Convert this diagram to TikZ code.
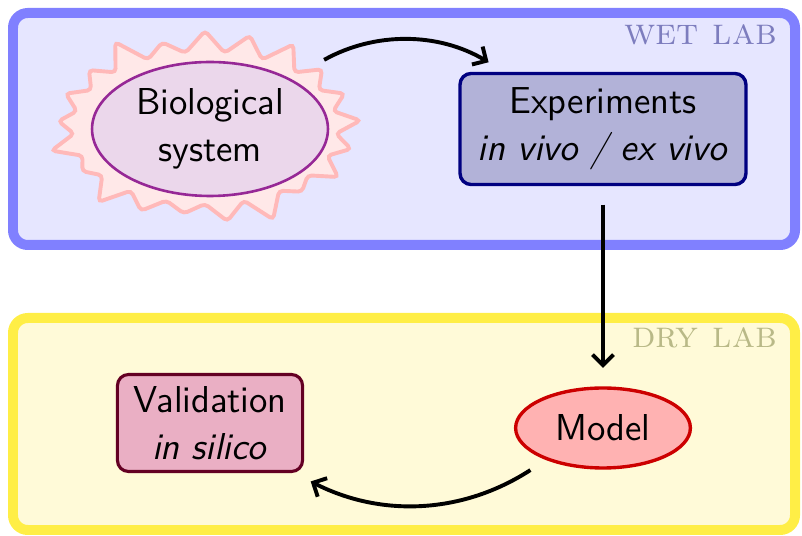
\documentclass[tikz,border=0pt]{standalone}
\usepackage{tikz}
\usetikzlibrary{shapes.geometric, shapes.symbols, arrows.meta, positioning}

\definecolor{wetframe}{RGB}{128,128,255}
\definecolor{wetfill}{RGB}{230,230,255}
\definecolor{wettext}{RGB}{125,125,190}
\definecolor{dryframe}{RGB}{255,238,70}
\definecolor{dryfill}{RGB}{255,250,216}
\definecolor{drytext}{RGB}{185,185,135}
\definecolor{burstdraw}{RGB}{255,185,185}
\definecolor{burstfill}{RGB}{255,232,232}
\definecolor{biodraw}{RGB}{150,40,150}
\definecolor{biofill}{RGB}{235,215,235}
\definecolor{expdraw}{RGB}{0,0,128}
\definecolor{expfill}{RGB}{178,178,216}
\definecolor{modeldraw}{RGB}{204,0,0}
\definecolor{modelfill}{RGB}{255,178,178}
\definecolor{valdraw}{RGB}{100,0,35}
\definecolor{valfill}{RGB}{234,175,196}

\begin{document}
\begin{tikzpicture}[x=0.0135cm, y=0.0135cm, font=\sffamily\Large,
        lab/.style={font=\rmfamily\Large, anchor=base east},
        frame/.style={line width=0.135cm, rounded corners=0.2cm},
        arr/.style={line width=1.5pt, -{Straight Barb[length=4pt, width=8pt]}, shorten <=0.25cm, shorten >=0.25cm}]
        \useasboundingbox (0, 0) rectangle (802, 536);
        \draw[frame, draw=wetframe, fill=wetfill] (13, 291) rectangle (795, 523);
        \draw[frame, draw=dryframe, fill=dryfill] (13, 6) rectangle (795, 218);
        \node[lab, text=wettext] (wet) at (786, 491) {\textsc{wet lab}};
        \node[lab, text=drytext] (dry) at (786, 188) {\textsc{dry lab}};
        \node[starburst, starburst points=21, starburst point height=0.4cm, rounded corners=1.5pt, line width=1.5pt, draw=burstdraw, fill=burstfill, minimum width=4.35cm, minimum height=2.85cm, inner sep=0pt] (burst) at (205, 408) {};
        \node[ellipse, line width=1pt, draw=biodraw, fill=biofill, minimum width=3.186cm, minimum height=1.809cm, inner sep=0pt, align=center] (bio) at (210, 407) {Biological\\system};
        \node[rectangle, rounded corners=0.15cm, line width=1.3pt, draw=expdraw, fill=expfill, minimum width=3.861cm, minimum height=1.5cm, inner sep=0pt, align=center] (exp) at (603, 407) {Experiments\\\textit{in vivo / ex vivo}};
        \node[ellipse, line width=1.3pt, draw=modeldraw, fill=modelfill, minimum width=2.36cm, minimum height=1.08cm, inner sep=0pt] (model) at (603, 108) {Model};
        \node[rectangle, rounded corners=0.15cm, line width=1.2pt, draw=valdraw, fill=valfill, minimum width=2.5cm, minimum height=1.31cm, inner sep=0pt, align=center] (val) at (210, 113) {Validation\\\textit{in silico}};
        \draw[arr] (burst) to[bend left] (exp);
        \draw[arr] (exp) -- (model);
        \draw[arr] (model) to[bend left] (val);
    \end{tikzpicture}
\end{document}
